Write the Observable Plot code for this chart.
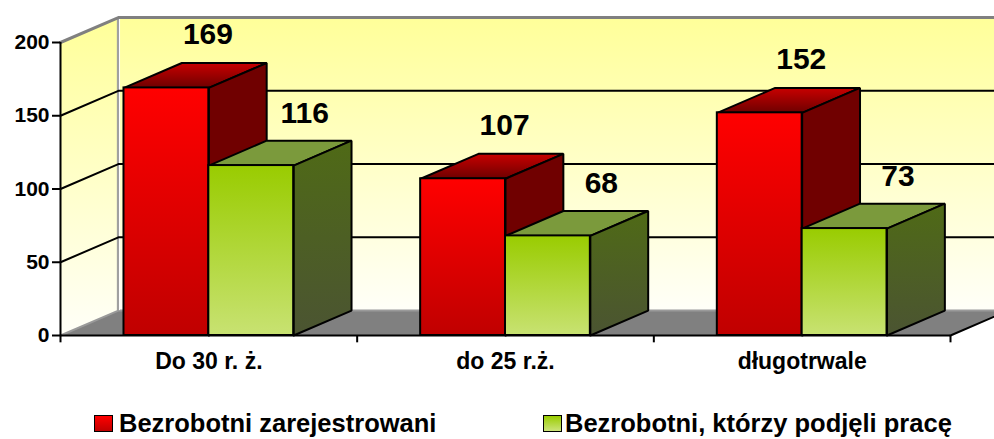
<!DOCTYPE html>
<html>
<head>
<meta charset="utf-8">
<script src="https://cdn.jsdelivr.net/npm/d3@7"></script>
<script src="https://cdn.jsdelivr.net/npm/@observablehq/plot@0.6"></script>
<style>
  html, body { margin: 0; padding: 0; background: #fff; overflow: hidden; }
  #wrap { position: relative; width: 994px; height: 439px; font-family: "Liberation Sans", Arial, sans-serif; }
  #chart svg { display: block; overflow: visible; }
  .leg { position: absolute; font-weight: bold; font-size: 25.5px; line-height: 25.5px; color: #000; white-space: nowrap; }
  .sw { position: absolute; width: 17px; height: 15px; border: 1.5px solid #000; }
</style>
</head>
<body>
<div id="wrap">
  <div id="chart"></div>
  <div class="sw" style="left:94px;top:415px;background:linear-gradient(#ff0000,#c00000);"></div>
  <div class="leg" style="left:119px;top:411px;">Bezrobotni zarejestrowani</div>
  <div class="sw" style="left:543px;top:415px;background:linear-gradient(#99cc00,#cce47a);"></div>
  <div class="leg" style="left:565px;top:411px;">Bezrobotni, którzy podjęli pracę</div>
</div>
<script>
// ---- data ----
const categories = ["Do 30 r. ż.", "do 25 r.ż.", "długotrwale"];
const seriesNames = ["Bezrobotni zarejestrowani", "Bezrobotni, którzy podjęli pracę"];
const registered = [169, 107, 152];
const employed = [116, 68, 73];
const yTicks = [0, 50, 100, 150, 200];

// ---- 3D geometry (data units) ----
const dX = 0.195;   // depth offset along x (category units)
const dY = 17;      // depth offset along y (value units)
const barW = 0.286;
const xL = -0.5, xR = 2.5, yMax = 200;

const bars = categories.flatMap((c, i) => [
  {id: "r" + i, s: 0, v: registered[i], x1: i - barW, x2: i, i},
  {id: "g" + i, s: 1, v: employed[i], x1: i, x2: i + barW, i}
]);

function topFace(b) {
  return [[b.x1, b.v], [b.x2, b.v], [b.x2 + dX, b.v + dY], [b.x1 + dX, b.v + dY], [b.x1, b.v]]
    .map(([x, y]) => ({id: b.id, x, y}));
}
function sideFace(b) {
  return [[b.x2, 0], [b.x2, b.v], [b.x2 + dX, b.v + dY], [b.x2 + dX, dY], [b.x2, 0]]
    .map(([x, y]) => ({id: b.id, x, y}));
}
const red = bars.filter(b => b.s === 0), green = bars.filter(b => b.s === 1);

const leftWall = [[xL, 0], [xL, yMax], [xL + dX, yMax + dY], [xL + dX, dY], [xL, 0]].map(([x, y]) => ({x, y}));
const floor = [[xL, 0], [xR, 0], [xR + dX, dY], [xL + dX, dY], [xL, 0]].map(([x, y]) => ({x, y}));
const grid = yTicks.filter(v => v > 0 && v < yMax).flatMap(v =>
  [[xL, v], [xL + dX, v + dY], [xR + dX, v + dY]].map(([x, y]) => ({v, x, y})));
const topEdge = [[xL, yMax], [xL + dX, yMax + dY], [xR + dX + 0.2, yMax + dY]].map(([x, y]) => ({x, y}));
const xBounds = [-0.5, 0.5, 1.5, 2.5];

const font = "'Liberation Sans', Arial, sans-serif";

const chart = Plot.plot({
  width: 994,
  height: 400,
  marginLeft: 60,
  marginRight: 44,
  marginTop: 42,
  marginBottom: 65,
  style: {fontFamily: font, fontSize: "21px", fontWeight: "bold", background: "transparent", color: "#000", overflow: "visible"},
  x: {domain: [xL, xR], axis: null},
  y: {domain: [0, yMax], axis: null},
  marks: [
    // back wall
    Plot.rect([{}], {x1: xL + dX, x2: xR + dX + 0.2, y1: dY, y2: yMax + dY, fill: "url(#gWall)"}),
    // left wall
    Plot.line(leftWall, {x: "x", y: "y", fill: "url(#gWall)", stroke: "none"}),
    // floor
    Plot.line(floor, {x: "x", y: "y", fill: "#808080", stroke: "none"}),
    Plot.line([{x: xL, y: 0}, {x: xL + dX, y: dY}, {x: xR + dX + 0.2, y: dY}], {x: "x", y: "y", stroke: "#9a9a9a", strokeWidth: 2}),
    Plot.line([{x: xR, y: 0}, {x: xR + dX, y: dY}], {x: "x", y: "y", stroke: "#000", strokeWidth: 2}),
    // wall back-left edge
    Plot.ruleX([xL + dX], {y1: dY, y2: yMax + dY, stroke: "#a0a0a0", strokeWidth: 3}),
    Plot.ruleX([xL + dX + 0.004], {y1: dY, y2: yMax + dY, stroke: "#ffffff", strokeWidth: 1}),
    // gridlines
    Plot.line(grid, {x: "x", y: "y", z: "v", stroke: "#000", strokeWidth: 2, strokeLinejoin: "miter"}),
    // top edge of walls
    Plot.line(topEdge, {x: "x", y: "y", stroke: "#808080", strokeWidth: 3, strokeLinejoin: "miter"}),
    // red bars
    Plot.line(red.flatMap(topFace), {x: "x", y: "y", z: "id", fill: "url(#gRedTop)", stroke: "#000", strokeWidth: 2, strokeLinejoin: "miter"}),
    Plot.line(red.flatMap(sideFace), {x: "x", y: "y", z: "id", fill: "#700000", stroke: "#000", strokeWidth: 2, strokeLinejoin: "miter"}),
    Plot.rect(red, {x1: "x1", x2: "x2", y1: 0, y2: "v", fill: "url(#gRedFront)", stroke: "#000", strokeWidth: 2}),
    // green bars
    Plot.line(green.flatMap(topFace), {x: "x", y: "y", z: "id", fill: "#7b9a3c", stroke: "#000", strokeWidth: 2, strokeLinejoin: "miter"}),
    Plot.line(green.flatMap(sideFace), {x: "x", y: "y", z: "id", fill: "url(#gGreenSide)", stroke: "#000", strokeWidth: 2, strokeLinejoin: "miter"}),
    Plot.rect(green, {x1: "x1", x2: "x2", y1: 0, y2: "v", fill: "url(#gGreenFront)", stroke: "#000", strokeWidth: 2}),
    // axes lines
    Plot.ruleX([xL], {y1: 0, y2: yMax, stroke: "#000", strokeWidth: 2}),
    Plot.ruleY(yTicks, {x1: xL - 0.027, x2: xL, stroke: "#000", strokeWidth: 2}),
    Plot.text(yTicks, {x: xL, y: d => d, text: d => String(d), dx: -11, textAnchor: "end", fontSize: 21, fontWeight: "bold", fill: "#000"}),
    Plot.ruleY([0], {x1: xL, x2: xR, stroke: "#000", strokeWidth: 2}),
    Plot.ruleX(xBounds, {y1: 0, y2: -5, stroke: "#000", strokeWidth: 2}),
    // category labels
    Plot.text(categories, {x: (d, i) => i, y: 0, text: d => d, dy: 17, lineAnchor: "top", fontSize: 23, fontWeight: "bold", fill: "#000"}),
    // value labels
    Plot.text(red, {x: d => (d.x1 + d.x2) / 2 + 0.14, y: d => d.v + dY, text: d => String(d.v), dy: -19, lineAnchor: "bottom", fontSize: 30, fontWeight: "bold", fill: "#000"}),
    Plot.text(green, {x: d => (d.x1 + d.x2) / 2 + 0.18, y: d => d.v + dY, text: d => String(d.v), dy: -18, lineAnchor: "bottom", fontSize: 30, fontWeight: "bold", fill: "#000"})
  ]
});

const svg = d3.select(chart);
const defs = svg.insert("defs", ":first-child");
function grad(id, stops) {
  const g = defs.append("linearGradient").attr("id", id).attr("x1", 0).attr("y1", 0).attr("x2", 0).attr("y2", 1);
  stops.forEach(([o, c]) => g.append("stop").attr("offset", o).attr("stop-color", c));
}
grad("gWall", [[0, "#ffff99"], [0.5, "#ffffc8"], [1, "#fffff8"]]);
grad("gRedFront", [[0, "#ff0000"], [1, "#c00000"]]);
grad("gRedTop", [[0, "#c80000"], [1, "#6e0000"]]);
grad("gGreenFront", [[0, "#99cc00"], [1, "#c8e272"]]);
grad("gGreenSide", [[0, "#4f6a16"], [1, "#4b5432"]]);

document.getElementById("chart").appendChild(chart);
</script>
</body>
</html>
